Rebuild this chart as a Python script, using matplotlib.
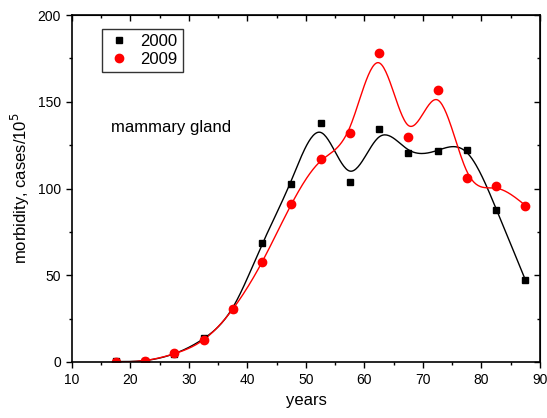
import numpy as np
import matplotlib
matplotlib.use("Agg")
from matplotlib import pyplot as plt
from matplotlib.ticker import MultipleLocator

plt.rcParams['font.family'] = ['Liberation Sans', 'DejaVu Sans']

# age group midpoints, years
ages = [17.5, 22.5, 27.5, 32.5, 37.5, 42.5, 47.5, 52.5, 57.5, 62.5,
        67.5, 72.5, 77.5, 82.5, 87.5]
# morbidity, cases per 10^5
cases_2000 = [0.3, 0.8, 4.8, 13.8, 30.5, 68.8, 102.4, 137.7, 103.7, 134.3,
              120.3, 121.6, 122.3, 87.6, 47.3]
cases_2009 = [0.0, 0.8, 4.9, 12.7, 30.6, 57.5, 90.9, 117.0, 131.8, 178.3,
              129.9, 156.6, 106.3, 101.6, 90.0]


def smooth_spline(x, y, lam, n_out=400):
    """
    Natural cubic smoothing spline (Reinsch), returns dense curve
    """
    x = np.asarray(x, float)
    y = np.asarray(y, float)
    n = len(x)
    h = np.diff(x)
    Q = np.zeros((n, n - 2))
    R = np.zeros((n - 2, n - 2))
    for j in range(1, n - 1):
        Q[j - 1, j - 1] = 1 / h[j - 1]
        Q[j, j - 1] = -1 / h[j - 1] - 1 / h[j]
        Q[j + 1, j - 1] = 1 / h[j]
        R[j - 1, j - 1] = (h[j - 1] + h[j]) / 3
        if j < n - 2:
            R[j - 1, j] = R[j, j - 1] = h[j] / 6
    gam = np.linalg.solve(R + lam * Q.T @ Q, Q.T @ y)
    g = y - lam * Q @ gam
    gam = np.concatenate([[0], gam, [0]])

    t = np.linspace(x[0], x[-1], n_out)
    i = np.clip(np.searchsorted(x, t) - 1, 0, n - 2)
    a = t - x[i]
    b = x[i + 1] - t
    hh = h[i]
    curve = (a * g[i + 1] + b * g[i]) / hh - a * b / 6 * (
        (1 + a / hh) * gam[i + 1] + (1 + b / hh) * gam[i])
    return t, curve


fig = plt.figure(figsize=(5.47, 4.18), dpi=100)
ax = fig.add_axes([0.1316, 0.134, 0.8556, 0.830])

t, c = smooth_spline(ages, cases_2000, 2.0)
ax.plot(t, c, color='black', lw=1.0)
t, c = smooth_spline(ages, cases_2009, 1.3)
ax.plot(t, c, color='red', lw=1.0)

ax.plot(ages, cases_2000, 's', color='black', ms=5, label='2000')
ax.plot(ages, cases_2009, 'o', color='red', ms=6, label='2009')

ax.set_xlim(10, 90)
ax.set_ylim(0, 200)
ax.xaxis.set_major_locator(MultipleLocator(10))
ax.xaxis.set_minor_locator(MultipleLocator(5))
ax.yaxis.set_major_locator(MultipleLocator(50))
ax.yaxis.set_minor_locator(MultipleLocator(25))
ax.tick_params(which='both', direction='out', labelsize=10, width=1)
ax.tick_params(which='major', length=4.5)
ax.tick_params(which='minor', length=2.5)

# mirrored inward ticks on top and right
for side in ('top', 'right'):
    sec = ax.secondary_xaxis('top') if side == 'top' else ax.secondary_yaxis('right')
    axis = sec.xaxis if side == 'top' else sec.yaxis
    axis.set_major_locator(MultipleLocator(10 if side == 'top' else 50))
    axis.set_minor_locator(MultipleLocator(5 if side == 'top' else 25))
    sec.tick_params(which='both', direction='in', labelleft=False, labelright=False,
                    labeltop=False, labelbottom=False, width=1)
    sec.tick_params(which='major', length=4.5)
    sec.tick_params(which='minor', length=2.5)

for sp in ax.spines.values():
    sp.set_linewidth(1.2)

ax.set_xlabel('years', fontsize=12)
ax.set_ylabel('morbidity, cases/10$^5$', fontsize=12)

ax.text(16.6, 135, 'mammary gland', fontsize=12, va='center')

leg = ax.legend(loc='upper left', bbox_to_anchor=(0.064, 0.96), fontsize=12,
                frameon=True, fancybox=False, edgecolor='black', handlelength=1.4,
                handletextpad=0.6, borderpad=0.3, labelspacing=0.2,
                borderaxespad=0)
leg.get_frame().set_linewidth(1.0)

fig.savefig('out.png', dpi=100)
